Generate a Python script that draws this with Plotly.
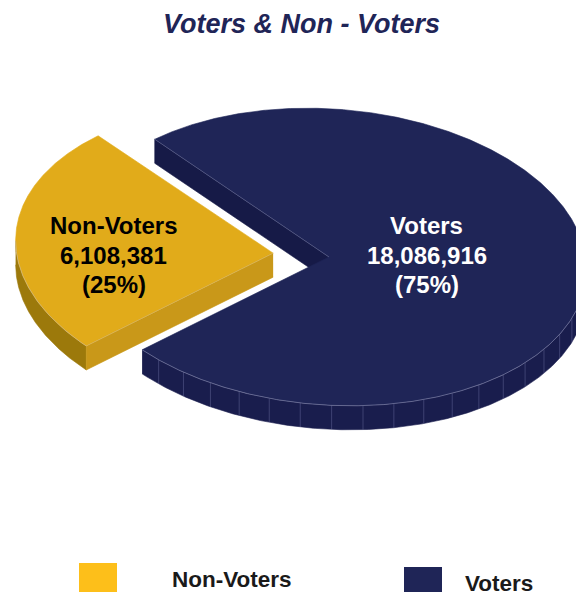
import numpy as np
import plotly.graph_objects as go

# ---- data ----
categories = ["Non-Voters", "Voters"]
counts = [6108381, 18086916]

# ---- styling ----
top_colors = ["#E1AB1A", "#1F2557"]     # upper face of each slice
cut_colors = ["#C99819", "#161A47"]     # flat cut faces
rim_colors = ["#9C790B", "#191D4D"]     # curved outer wall
legend_colors = ["#FDBF1A", "#1F2557"]
label_colors = ["#000000", "#FFFFFF"]
explode = [0.217, 0.0]

W, H = 576, 592
CX, CY = 329, 257        # pie centre (pixels)
RX, RY = 258, 148        # elliptical radii of the tilted disc
TILT = np.radians(4.2)   # slight in-plane rotation of the disc
DEPTH = 24               # wall thickness
START = 135.0            # angle (deg, counter-clockwise) where the first slice begins
FONT = "Liberation Sans, Arial, sans-serif"

total = sum(counts)
shares = [c / total for c in counts]


def pt(theta, r, ox=0.0, oy=0.0, z=0.0):
    """Screen position of a point on the disc (y grows downward)."""
    t = np.radians(theta)
    u = RX * r * np.cos(t)
    v = -RY * r * np.sin(t)
    x = u * np.cos(TILT) - v * np.sin(TILT)
    y = u * np.sin(TILT) + v * np.cos(TILT)
    return CX + ox + x, CY + oy + y + z


def offset(theta, e):
    x0, y0 = pt(theta, 0)
    x1, y1 = pt(theta, e)
    return x1 - x0, y1 - y0


def poly(xs, ys, color, width=0.6):
    return go.Scatter(
        x=list(xs), y=list(ys), mode="lines", fill="toself",
        fillcolor=color, line=dict(color=color, width=width),
        hoverinfo="skip", showlegend=False,
    )


def line(xs, ys, color, width=0.7):
    return go.Scatter(
        x=list(xs), y=list(ys), mode="lines",
        line=dict(color=color, width=width),
        hoverinfo="skip", showlegend=False,
    )


def wall_visible(theta):
    # the outer wall faces the viewer where the rim runs left-to-right on screen
    t = np.radians(theta)
    return (-RX * np.sin(t) * np.cos(TILT) + RY * np.cos(t) * np.sin(TILT)) > 0


def cut_visible(edge, inside):
    cx0, cy0 = pt(edge, 0)
    rx0, ry0 = pt(edge, 1)
    qx, qy = pt(inside, 0.5)
    dx, dy = rx0 - cx0, ry0 - cy0
    qx, qy = qx - cx0, qy - cy0
    k = (qx * dx + qy * dy) / (dx * dx + dy * dy)
    return (qy - k * dy) < 0     # slice lies above the edge -> its side shows


fig = go.Figure()
annotations = []

bounds = []
acc = START
for s in shares:
    bounds.append((acc, acc + 360.0 * s))
    acc += 360.0 * s

order = sorted(range(len(counts)), key=lambda i: explode[i])
for i in order:
    t0, t1 = bounds[i]
    mid = 0.5 * (t0 + t1)
    ox, oy = offset(mid, explode[i])

    # curved wall facing the viewer
    th = np.linspace(t0, t1, 720)
    vis = wall_visible(th)
    runs, cur = [], []
    for a, f in zip(th, vis):
        if f:
            cur.append(a)
        elif cur:
            runs.append(np.array(cur))
            cur = []
    if cur:
        runs.append(np.array(cur))
    for run in runs:
        xt, yt = pt(run, 1, ox, oy)
        xb, yb = pt(run[::-1], 1, ox, oy, DEPTH)
        fig.add_trace(poly(np.r_[xt, xb], np.r_[yt, yb], rim_colors[i]))
        if i == 1:
            for a in np.arange(np.ceil(run[0] / 7.0) * 7.0, run[-1], 7.0):
                x1, y1 = pt(a, 1, ox, oy)
                x2, y2 = pt(a, 1, ox, oy, DEPTH)
                fig.add_trace(line([x1, x2], [y1, y2], "rgba(150,155,205,0.5)", 0.6))

    # flat cut faces
    cx0, cy0 = pt(0, 0, ox, oy)
    shown_cuts = []
    for edge, inside in ((t0, t0 + 1), (t1, t1 - 1)):
        if cut_visible(edge, inside):
            rx0, ry0 = pt(edge, 1, ox, oy)
            fig.add_trace(poly(
                [cx0, rx0, rx0, cx0], [cy0, ry0, ry0 + DEPTH, cy0 + DEPTH],
                cut_colors[i]))
            shown_cuts.append(edge)

    # top face
    th = np.linspace(t0, t1, 800)
    xa, ya = pt(th, 1, ox, oy)
    fig.add_trace(poly(np.r_[cx0, xa, cx0], np.r_[cy0, ya, cy0], top_colors[i]))

    # light edges where the top meets the visible walls
    for run in runs:
        xe, ye = pt(run, 1, ox, oy)
        fig.add_trace(line(xe, ye, "rgba(200,200,230,0.55)", 0.7))
    for edge in shown_cuts:
        xe, ye = pt(edge, 1, ox, oy)
        fig.add_trace(line([cx0, xe], [cy0, ye], "rgba(200,200,230,0.45)", 0.6))

    # value label, one annotation per line
    lr = 0.62 if explode[i] > 0 else 0.38
    lx, _ = pt(mid, lr, ox, oy)
    lines = [categories[i], f"{counts[i]:,}", f"({shares[i] * 100:.0f}%)"]
    for k, txt in enumerate(lines):
        annotations.append(dict(
            x=lx, y=CY - 2 + (k - 1) * 29.5, xref="x", yref="y", showarrow=False,
            text=f"<b>{txt}</b>",
            font=dict(family=FONT, size=24, color=label_colors[i]),
            xanchor="center", yanchor="middle",
        ))

# title
annotations.append(dict(
    x=301, y=24, xref="x", yref="y", showarrow=False,
    text="<b><i>Voters &amp; Non - Voters</i></b>",
    font=dict(family=FONT, size=27, color="#1F2557"),
    xanchor="center", yanchor="middle",
))

# legend
shapes = []
legend_box_x = [79, 404]
legend_box_top = [563, 567]
legend_text_x = [170, 463]
legend_text_y = [579, 583]
for i in range(len(categories)):
    shapes.append(dict(
        type="rect", xref="x", yref="y",
        x0=legend_box_x[i], x1=legend_box_x[i] + 38,
        y0=legend_box_top[i], y1=legend_box_top[i] + 32,
        fillcolor=legend_colors[i], line=dict(width=0),
    ))
    annotations.append(dict(
        x=legend_text_x[i], y=legend_text_y[i], xref="x", yref="y", showarrow=False,
        text=f"<b>{categories[i]}</b>",
        font=dict(family=FONT, size=22.5, color="#1A1A1A"),
        xanchor="left", yanchor="middle",
    ))

fig.update_layout(
    width=W, height=H, autosize=False,
    margin=dict(l=0, r=0, t=0, b=0),
    paper_bgcolor="white", plot_bgcolor="white",
    xaxis=dict(range=[0, W], visible=False, fixedrange=True),
    yaxis=dict(range=[H, 0], visible=False, fixedrange=True),
    shapes=shapes, annotations=annotations,
    showlegend=False,
)

fig.write_html("out.html", config={"displayModeBar": False})
